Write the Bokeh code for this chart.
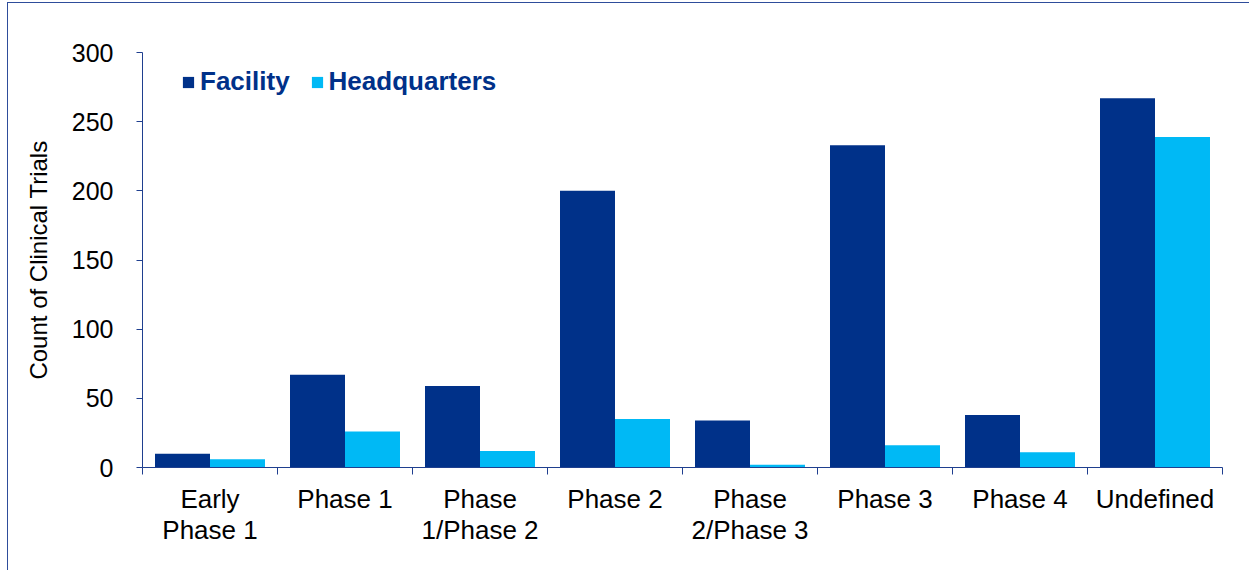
import numpy as np
from bokeh.plotting import figure
from bokeh.models import Range1d, LinearAxis, FixedTicker, Legend, LegendItem
from bokeh.embed import file_html
from bokeh.resources import INLINE

categories = ["Early Phase 1", "Phase 1", "Phase 1/Phase 2", "Phase 2",
              "Phase 2/Phase 3", "Phase 3", "Phase 4", "Undefined"]
tick_labels = ["Early\nPhase 1", "Phase 1", "Phase\n1/Phase 2", "Phase 2",
               "Phase\n2/Phase 3", "Phase 3", "Phase 4", "Undefined"]
facility = [10, 67, 59, 200, 34, 233, 38, 267]
headquarters = [6, 26, 12, 35, 2, 16, 11, 239]
y_ticks = [0, 50, 100, 150, 200, 250, 300]

DARK = "#003189"
LIGHT = "#00B9F5"
AXIS = "#1F3F8F"
FONT = "Liberation Sans"

n = len(categories)
centers = np.arange(n) + 0.5
bw = 0.4074

p = figure(width=1242, height=568, output_backend="svg", toolbar_location=None,
           x_range=Range1d(0, n), y_range=Range1d(0, 300),
           x_axis_location=None, min_border_left=134, min_border_top=49,
           min_border_right=28, min_border_bottom=104)
p.styles = {"margin-left": "7px", "margin-top": "2px",
            "border-left": "1px solid #2E4D9B", "border-top": "1px solid #2E4D9B"}
p.outline_line_color = None
p.grid.visible = False
p.background_fill_color = "white"
p.border_fill_color = "white"

r1 = p.vbar(x=centers - bw / 2, top=facility, width=bw, bottom=0,
            fill_color=DARK, line_color=None)
r2 = p.vbar(x=centers + bw / 2, top=headquarters, width=bw, bottom=0,
            fill_color=LIGHT, line_color=None)

# y axis
ya = p.yaxis[0]
ya.ticker = FixedTicker(ticks=y_ticks)
ya.minor_tick_line_color = None
ya.axis_line_color = AXIS
ya.major_tick_line_color = AXIS
ya.major_tick_out = 6
ya.major_tick_in = 0
ya.major_label_text_font = FONT
ya.major_label_text_font_size = "25px"
ya.major_label_text_color = "black"
ya.major_label_standoff = 23
ya.axis_label = "Count of Clinical Trials"
ya.axis_label_text_font = FONT
ya.axis_label_text_font_size = "24px"
ya.axis_label_text_font_style = "normal"
ya.axis_label_text_color = "black"
ya.axis_label_standoff = 17

# x axis: boundary ticks
xa1 = LinearAxis(ticker=FixedTicker(ticks=list(range(n + 1)), minor_ticks=[]))
xa1.axis_line_color = AXIS
xa1.major_tick_line_color = AXIS
xa1.major_tick_out = 7
xa1.major_tick_in = 0
xa1.minor_tick_line_color = None
xa1.major_label_overrides = {i: "" for i in range(n + 1)}
xa1.major_label_text_font_size = "1px"
xa1.major_label_standoff = 0
p.add_layout(xa1, "below")

# x axis: category labels
xa2 = LinearAxis(ticker=FixedTicker(ticks=list(centers), minor_ticks=[]))
xa2.axis_line_color = None
xa2.major_tick_line_color = None
xa2.minor_tick_line_color = None
xa2.major_label_overrides = {float(c): lab for c, lab in zip(centers, tick_labels)}
xa2.major_label_text_font = FONT
xa2.major_label_text_font_size = "26px"
xa2.major_label_text_color = "black"
xa2.major_label_text_line_height = 1.04
xa2.major_label_standoff = 3
p.add_layout(xa2, "below")

legend = Legend(items=[LegendItem(label="Facility", renderers=[r1]),
                       LegendItem(label="Headquarters", renderers=[r2])],
                orientation="horizontal", location=(39, 370))
legend.border_line_color = None
legend.background_fill_alpha = 0
legend.label_text_font = FONT
legend.label_text_font_size = "26px"
legend.label_text_font_style = "bold"
legend.label_text_color = "#003189"
legend.glyph_width = 14
legend.glyph_height = 14
legend.label_standoff = 5
legend.spacing = 20
legend.padding = 0
legend.margin = 0
p.add_layout(legend)

open("out.html", "w").write(file_html(p, INLINE))
